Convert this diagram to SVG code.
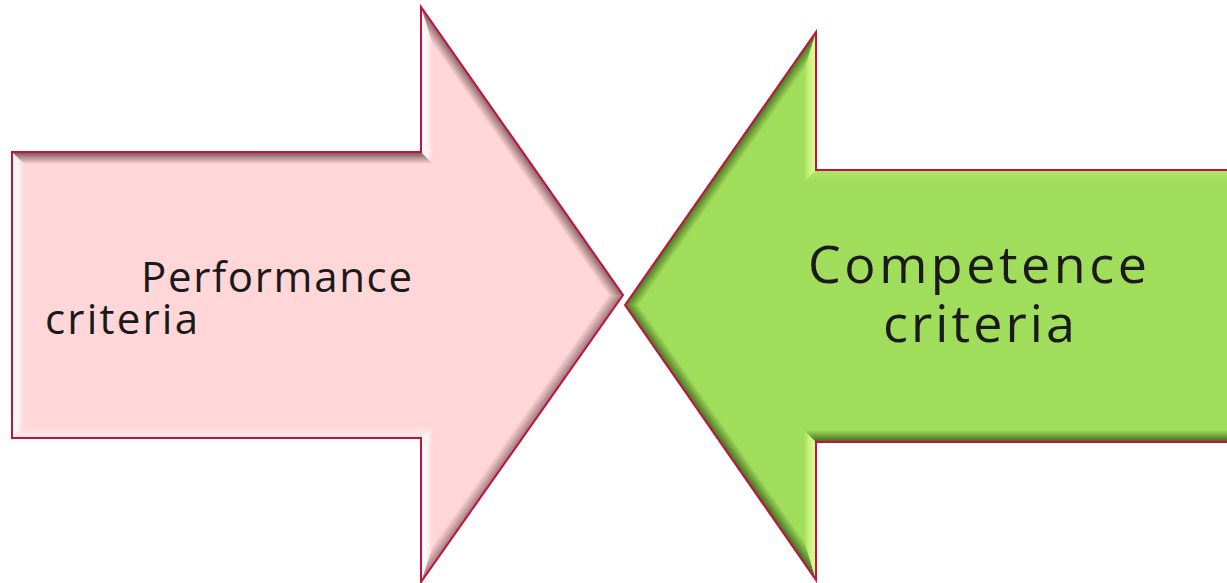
<svg xmlns="http://www.w3.org/2000/svg" width="1227" height="583" viewBox="0 0 1227 583">
  <style>
    .edge { fill: none; stroke: #BE143E; stroke-width: 2; stroke-linejoin: miter; }
    .lbl { font-family: "Open Sans", "Liberation Sans", sans-serif; fill: #1a1a1a; }
  </style>
  <defs>
    <linearGradient id="lightH" x1="0" y1="0" x2="1" y2="0">
      <stop offset="0" stop-color="#ffffff" stop-opacity="0.95"/>
      <stop offset="0.6" stop-color="#ffffff" stop-opacity="0.6"/>
      <stop offset="1" stop-color="#ffffff" stop-opacity="0"/>
    </linearGradient>
    <linearGradient id="darkV" x1="0" y1="0" x2="0" y2="1">
      <stop offset="0" stop-color="#3a1418" stop-opacity="0.7"/>
      <stop offset="1" stop-color="#3a1418" stop-opacity="0"/>
    </linearGradient>
    <linearGradient id="lightVup" x1="0" y1="1" x2="0" y2="0">
      <stop offset="0" stop-color="#ffffff" stop-opacity="0.5"/>
      <stop offset="1" stop-color="#ffffff" stop-opacity="0"/>
    </linearGradient>
    <linearGradient id="lUpDiag" gradientUnits="userSpaceOnUse" x1="522" y1="151" x2="512" y2="158">
      <stop offset="0" stop-color="#3a1418" stop-opacity="0.6"/>
      <stop offset="1" stop-color="#3a1418" stop-opacity="0"/>
    </linearGradient>
    <linearGradient id="lLoDiag" gradientUnits="userSpaceOnUse" x1="522" y1="439" x2="512" y2="432">
      <stop offset="0" stop-color="#3a1418" stop-opacity="0.5"/>
      <stop offset="1" stop-color="#3a1418" stop-opacity="0"/>
    </linearGradient>
    <!-- green arrow -->
    <linearGradient id="glightH" x1="1" y1="0" x2="0" y2="0">
      <stop offset="0" stop-color="#e8ff9a" stop-opacity="0.95"/>
      <stop offset="0.6" stop-color="#e0ff90" stop-opacity="0.6"/>
      <stop offset="1" stop-color="#e0ff90" stop-opacity="0"/>
    </linearGradient>
    <linearGradient id="gdarkUp" x1="0" y1="1" x2="0" y2="0">
      <stop offset="0" stop-color="#1e3a08" stop-opacity="0.75"/>
      <stop offset="1" stop-color="#1e3a08" stop-opacity="0"/>
    </linearGradient>
    <linearGradient id="glightDown" x1="0" y1="0" x2="0" y2="1">
      <stop offset="0" stop-color="#d8ff90" stop-opacity="0.3"/>
      <stop offset="1" stop-color="#d8ff90" stop-opacity="0"/>
    </linearGradient>
    <linearGradient id="rUpDiag" gradientUnits="userSpaceOnUse" x1="720" y1="168" x2="730" y2="175">
      <stop offset="0" stop-color="#1e3a08" stop-opacity="0.7"/>
      <stop offset="1" stop-color="#1e3a08" stop-opacity="0"/>
    </linearGradient>
    <linearGradient id="rLoDiag" gradientUnits="userSpaceOnUse" x1="720" y1="442" x2="730" y2="435">
      <stop offset="0" stop-color="#1e3a08" stop-opacity="0.7"/>
      <stop offset="1" stop-color="#1e3a08" stop-opacity="0"/>
    </linearGradient>
  </defs>

  <g id="performance-arrow">
    <polygon points="12,152 421,152 421,7 623,295 421,582 421,438 12,438" fill="#FFD7D9"/>
    <polygon points="12,152 24,164 24,426 12,438" fill="url(#lightH)"/>
    <polygon points="12,152 421,152 433,164 24,164" fill="url(#darkV)"/>
    <polygon points="421,152 421,7 433,45 433,164" fill="url(#lightH)"/>
    <polygon points="421,7 623,295 608,295 433,45" fill="url(#lUpDiag)"/>
    <polygon points="623,295 421,582 433,545 608,295" fill="url(#lLoDiag)"/>
    <polygon points="421,582 421,438 433,426 433,545" fill="url(#lightH)"/>
    <polygon points="421,438 12,438 24,426 433,426" fill="url(#lightVup)"/>
    <polygon class="edge" points="12,152 421,152 421,7 623,295 421,582 421,438 12,438"/>
    <text class="lbl" font-size="42" x="141" y="292" textLength="271" lengthAdjust="spacing">Performance</text>
    <text class="lbl" font-size="42" x="45" y="334" textLength="153" lengthAdjust="spacing">criteria</text>
  </g>

  <g id="competence-arrow">
    <polygon points="625,305 816,32 816,170 1229,170 1229,442 816,442 816,580" fill="#A0DD5A"/>
    <polygon points="816,32 816,170 804,182 804,70" fill="url(#glightH)"/>
    <polygon points="816,170 1229,170 1229,182 804,182" fill="url(#glightDown)"/>
    <polygon points="816,32 804,70 640,305 625,305" fill="url(#rUpDiag)"/>
    <polygon points="625,305 640,305 804,540 816,580" fill="url(#rLoDiag)"/>
    <polygon points="816,580 804,540 804,430 816,442" fill="url(#glightH)"/>
    <polygon points="816,442 804,430 1229,430 1229,442" fill="url(#gdarkUp)"/>
    <polygon class="edge" points="625,305 816,32 816,170 1229,170 1229,442 816,442 816,580"/>
    <text class="lbl" font-size="52" x="808" y="283" textLength="339" lengthAdjust="spacing">Competence</text>
    <text class="lbl" font-size="52" x="883" y="342" textLength="192" lengthAdjust="spacing">criteria</text>
  </g>
</svg>
